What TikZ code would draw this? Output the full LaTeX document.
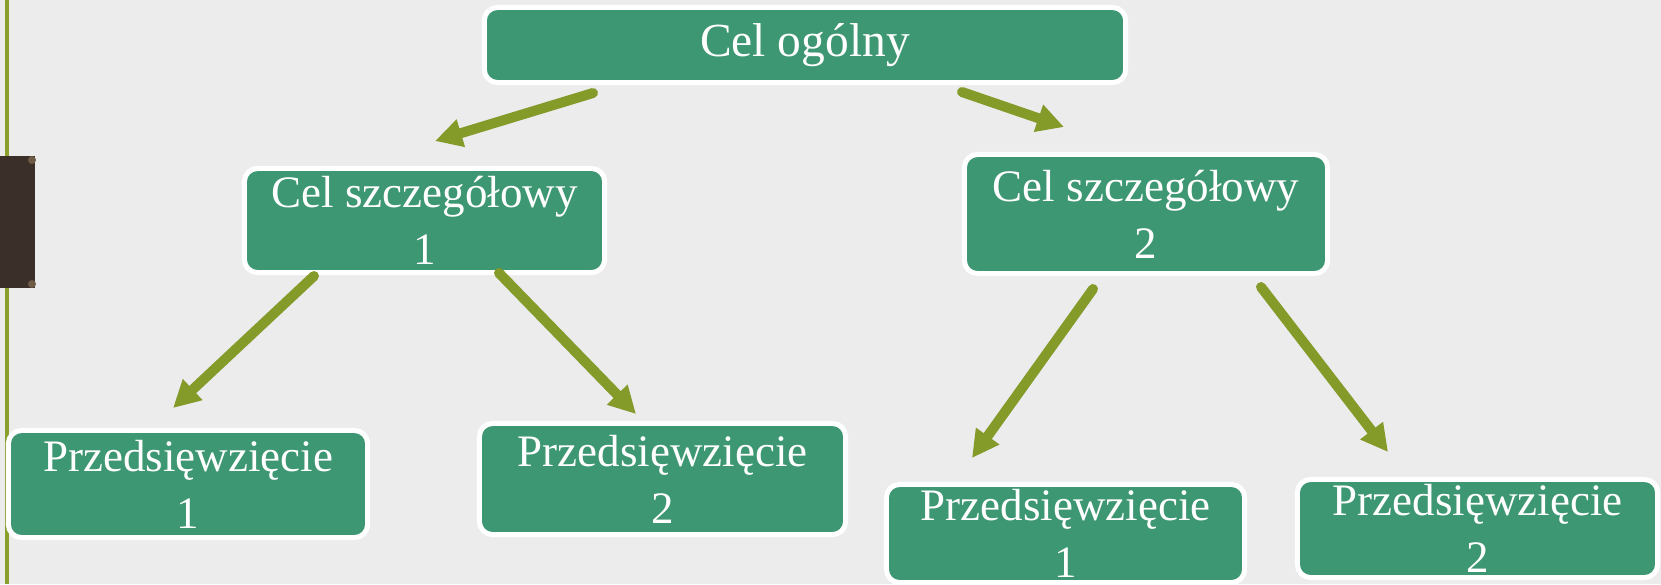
\documentclass[tikz,border=0pt]{standalone}
\usepackage{fontspec}
\setmainfont{Liberation Serif}
\usetikzlibrary{arrows.meta}
\definecolor{bgcol}{RGB}{236,236,236}
\definecolor{boxgreen}{RGB}{61,151,114}
\definecolor{olivearrow}{RGB}{132,155,42}
\definecolor{oliveline}{RGB}{138,160,45}
\definecolor{darkbrown}{RGB}{58,48,41}
\definecolor{dotbrown}{RGB}{110,92,70}
\tikzset{
  goalbox/.style={draw=white, line width=0.05cm, fill=boxgreen, rounded corners=0.13cm,
    text=white, align=center, inner sep=0pt, font=\fontsize{12.8}{16.2}\selectfont},
  linkarrow/.style={draw=olivearrow, line width=0.1cm, line cap=round,
    -{Triangle[length=0.27cm, width=0.27cm]}}
}
\begin{document}
\begin{tikzpicture}[x=0.01cm, y=-0.01cm]
\useasboundingbox (0,0) rectangle (1661,584);
\clip (0,0) rectangle (1661,584);
\fill[bgcol] (0,0) rectangle (1661,584);
% left decorations
\fill[oliveline] (5,0) rectangle (9,584);
\fill[darkbrown] (0,156) rectangle (35,288);
\fill[dotbrown] (32,160) circle (4);
\fill[dotbrown] (32,284) circle (4);
% boxes
\node[goalbox, minimum width=6.41cm, minimum height=0.75cm, font=\fontsize{13.5}{16.2}\selectfont] (top) at (805,45) {Cel ogólny};
\node[goalbox, minimum width=3.60cm, minimum height=1.04cm] (cs1) at (424.5,220.5) {Cel szczegółowy\\1};
\node[goalbox, minimum width=3.63cm, minimum height=1.19cm] (cs2) at (1146,214) {Cel szczegółowy\\2};
\node[goalbox, minimum width=3.59cm, minimum height=1.07cm] (p1l) at (188,484) {Przedsięwzięcie\\1};
\node[goalbox, minimum width=3.66cm, minimum height=1.11cm] (p2l) at (662.5,479) {Przedsięwzięcie\\2};
\node[goalbox, minimum width=3.58cm, minimum height=0.98cm] (p1r) at (1065.5,533.5) {Przedsięwzięcie\\1};
\node[goalbox, minimum width=3.60cm, minimum height=0.98cm] (p2r) at (1477.5,528.5) {Przedsięwzięcie\\2};
% arrow end points
\coordinate (a1s) at (593,93);  \coordinate (a1e) at (435,141);
\coordinate (a2s) at (962,92);  \coordinate (a2e) at (1064,127);
\coordinate (a3s) at (314,276); \coordinate (a3e) at (173,408);
\coordinate (a4s) at (499,273); \coordinate (a4e) at (636,414);
\coordinate (a5s) at (1093,289); \coordinate (a5e) at (972,458);
\coordinate (a6s) at (1261,287); \coordinate (a6e) at (1388,452);
\draw[linkarrow] (a1s) -- (a1e);
\draw[linkarrow] (a2s) -- (a2e);
\draw[linkarrow] (a3s) -- (a3e);
\draw[linkarrow] (a4s) -- (a4e);
\draw[linkarrow] (a5s) -- (a5e);
\draw[linkarrow] (a6s) -- (a6e);
\end{tikzpicture}
\end{document}
